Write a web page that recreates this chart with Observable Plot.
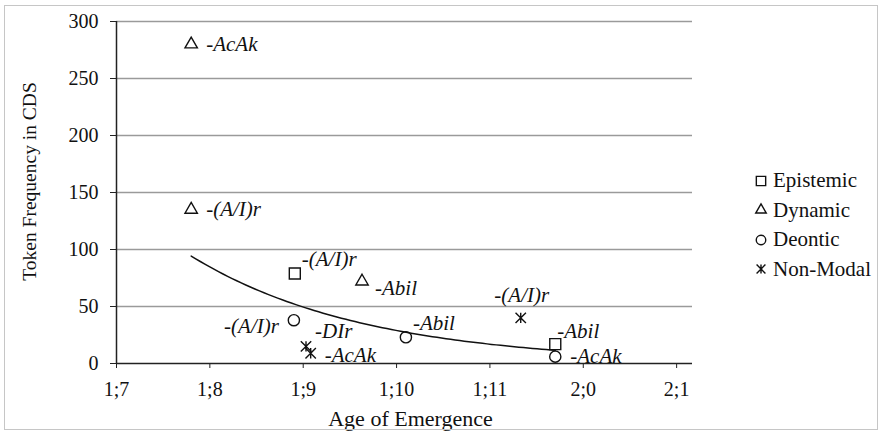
<!DOCTYPE html>
<html><head><meta charset="utf-8">
<script src="https://cdn.jsdelivr.net/npm/d3@7"></script>
<script src="https://cdn.jsdelivr.net/npm/@observablehq/plot@0.6"></script>
<style>
html,body{margin:0;padding:0;background:#fff;}
#chart{position:relative;width:882px;height:435px;font-family:"Liberation Serif","Tinos","DejaVu Serif",serif;color:#111;}
#frame{position:absolute;left:4px;top:5px;width:874px;height:425px;border:1px solid #c6c6c6;box-sizing:border-box;pointer-events:none;}
#plot{position:absolute;left:0;top:0;}
#legend{position:absolute;left:755px;top:166px;font-size:21px;line-height:29.5px;}
#legend div{display:flex;align-items:center;white-space:nowrap;}
#legend svg{margin-right:6px;overflow:visible;}
</style></head>
<body>
<div id="chart"><div id="plot"></div><div id="legend"></div><div id="frame"></div></div>
<script>
// ---- data ----
const categories = ["Epistemic", "Dynamic", "Deontic", "Non-Modal"];
const pointSeries = ["Dynamic", "Dynamic", "Dynamic", "Epistemic", "Epistemic", "Deontic", "Deontic", "Deontic", "Non-Modal", "Non-Modal", "Non-Modal"];
const ageMonths   = [19.8, 19.8, 21.63, 20.91, 23.7, 20.9, 22.1, 23.7, 21.03, 21.08, 23.33];
const frequency   = [280, 135, 72, 79, 17, 38, 23, 6, 15, 9, 40];
const suffixes    = ["-AcAk", "-(A/I)r", "-Abil", "-(A/I)r", "-Abil", "-(A/I)r", "-Abil", "-AcAk", "-DIr", "-AcAk", "-(A/I)r"];
const labelPlacement = ["right", "right", "rightLow", "upRight", "up", "left", "upRight", "right", "upRightHigh", "rightDown", "above"];
const xTickMonths = [19, 20, 21, 22, 23, 24, 25];
const yTicks = [0, 50, 100, 150, 200, 250, 300];

// ---- styling / layout ----
const FONT = "'Liberation Serif', 'Tinos', 'DejaVu Serif', serif";
// spreadsheet-style "star" marker: an X with a vertical bar
const star = {
  draw(context, size) {
    const s = Math.sqrt(size / Math.PI);
    context.moveTo(-s, -s); context.lineTo(s, s);
    context.moveTo(s, -s); context.lineTo(-s, s);
    context.moveTo(0, -s); context.lineTo(0, s);
  }
};
const symbols = {"Epistemic": "square", "Dynamic": "triangle", "Deontic": "circle", "Non-Modal": star};
const d3sym = {"Epistemic": d3.symbolSquare, "Dynamic": d3.symbolTriangle, "Deontic": d3.symbolCircle, "Non-Modal": star};
const symbolR = {"Epistemic": 6.2, "Dynamic": 4.6, "Deontic": 5.6, "Non-Modal": 5.2};
const placements = {
  right:       {dx: 15, dy: 0, textAnchor: "start"},
  rightDown:   {dx: 14, dy: 2, textAnchor: "start"},
  rightLow:    {dx: 13, dy: 7, textAnchor: "start"},
  upRight:     {dx: 7, dy: -14, textAnchor: "start"},
  upRightHigh: {dx: 9, dy: -15, textAnchor: "start"},
  up:          {dx: 2, dy: -13, textAnchor: "start"},
  left:        {dx: -15, dy: 6, textAnchor: "end"},
  above:       {dx: 1, dy: -23, textAnchor: "middle"}
};

const data = ageMonths.map((x, i) => ({x, y: frequency[i], series: pointSeries[i], label: suffixes[i], place: labelPlacement[i]}));
const fmtAge = m => `${Math.floor(m / 12)};${m % 12}`;

// exponential trendline (least squares on ln y), as in the spreadsheet trendline
const lx = data.map(d => d.x), ly = data.map(d => Math.log(d.y));
const mx = d3.mean(lx), my = d3.mean(ly);
const b = d3.sum(lx, (x, i) => (x - mx) * (ly[i] - my)) / d3.sum(lx, x => (x - mx) ** 2);
const a = Math.exp(my - b * mx);
const [x0, x1] = d3.extent(lx);
const trend = d3.range(0, 81).map(k => { const x = x0 + (x1 - x0) * k / 80; return {x, y: a * Math.exp(b * x)}; });

const dotMarks = categories.map(c => Plot.dot(data.filter(d => d.series === c), {
  x: "x", y: "y", symbol: symbols[c], r: symbolR[c], stroke: "#111", strokeWidth: 1.4, fill: "none"
}));
const labelMarks = Object.entries(placements).map(([k, p]) => Plot.text(data.filter(d => d.place === k), {
  x: "x", y: "y", text: "label", dx: p.dx, dy: p.dy, textAnchor: p.textAnchor,
  fontStyle: "italic", fontSize: 21, fill: "#111"
}));

const plot = Plot.plot({
  width: 882, height: 435,
  marginLeft: 116, marginRight: 190, marginTop: 21, marginBottom: 72,
  style: {fontFamily: FONT, fontSize: "20px", color: "#111", background: "transparent", overflow: "visible"},
  x: {domain: [19, 25.17]},
  y: {domain: [0, 300]},
  marks: [
    Plot.gridY(yTicks.filter(v => v > 0), {stroke: "#9a9a9a", strokeOpacity: 1, strokeWidth: 1.3}),
    Plot.axisX({ticks: xTickMonths, tickFormat: fmtAge, tickSize: 5, tickPadding: 13, label: null, fontSize: 20, stroke: "#222"}),
    Plot.axisY({ticks: yTicks, tickSize: 6, tickPadding: 12, label: null, fontSize: 20, stroke: "#222"}),
    Plot.ruleY([0], {stroke: "#222", strokeWidth: 1.5}),
    Plot.ruleX([19], {stroke: "#222", strokeWidth: 1.5}),
    Plot.line(trend, {x: "x", y: "y", stroke: "#111", strokeWidth: 1.5}),
    ...dotMarks,
    ...labelMarks,
    Plot.text(["Age of Emergence"], {text: d => d, frameAnchor: "bottom", lineAnchor: "middle", textAnchor: "middle", dx: 6, dy: 55, fontSize: 22, fill: "#111"}),
    Plot.text(["Token Frequency in CDS"], {text: d => d, frameAnchor: "left", lineAnchor: "middle", textAnchor: "middle", rotate: -90, dx: -87, dy: -11, fontSize: 19.5, fill: "#111"})
  ]
});
document.getElementById("plot").appendChild(plot);

// legend
const legend = d3.select("#legend");
for (const c of categories) {
  const row = legend.append("div");
  const s = row.append("svg").attr("width", 12).attr("height", 12);
  const r = symbolR[c] * 0.85;
  s.append("path").attr("transform", "translate(6,6)")
    .attr("d", d3.symbol(d3sym[c], Math.PI * r * r)())
    .attr("fill", "none").attr("stroke", "#111").attr("stroke-width", 1.4);
  row.append("span").text(c);
}
</script>
</body></html>
